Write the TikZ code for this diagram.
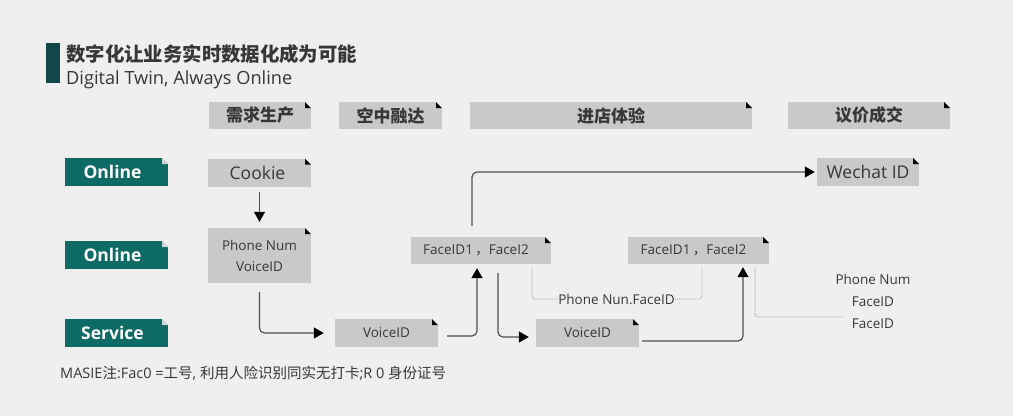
\documentclass[tikz,border=0pt]{standalone}
\usepackage{fontspec}
\setmainfont{Open Sans}
\newfontfamily\cjk{Noto Sans CJK SC}
\usetikzlibrary{arrows.meta,calc}
\definecolor{bgc}{RGB}{239,239,240}
\definecolor{boxg}{RGB}{201,201,203}
\definecolor{tealbox}{RGB}{14,106,101}
\definecolor{tealdark}{RGB}{18,70,72}
\definecolor{txt}{RGB}{55,55,55}
\definecolor{lnc}{RGB}{80,80,80}
\definecolor{foldl}{RGB}{205,214,213}
\definecolor{dotc}{RGB}{150,150,150}
\tikzset{
  x=1pt,y=-1pt,
  foldpic/.style={path picture={
    \fill[bgc] ($(path picture bounding box.north east)+(-6pt,0pt)$) -- (path picture bounding box.north east) -- ++(0pt,-6pt) -- cycle;
    \fill[#1] ($(path picture bounding box.north east)+(-6pt,0pt)$) -- ++(0pt,-6pt) -- ++(6pt,0pt) -- cycle;}},
  graybox/.style={rectangle, inner sep=0pt, fill=boxg, text=txt, foldpic=black},
  hdrbox/.style={graybox, minimum height=27pt, font=\cjk\bfseries\fontsize{17}{17}\selectfont},
  tealtag/.style={rectangle, inner sep=0pt, fill=tealbox, text=white, minimum width=103pt, minimum height=28pt, foldpic=foldl, font=\bfseries\fontsize{17.5}{18}\selectfont},
  bigtxt/.style={font=\fontsize{17.5}{18}\selectfont},
  smtxt/.style={font=\fontsize{13.5}{14}\selectfont},
  arr/.style={draw=lnc, line width=1.2pt, rounded corners=5pt, -{Triangle[length=10pt,width=11pt,color=black]}},
  dotline/.style={draw=dotc, line width=0.8pt, dash pattern=on 1pt off 1pt, rounded corners=3pt},
}
\begin{document}
\begin{tikzpicture}
\fill[bgc] (0,0) rectangle (1013,416);
\useasboundingbox (0,0) rectangle (1013,416);
% title
\fill[tealdark] (46,43) rectangle (60,83);
\node[anchor=west, inner sep=0pt, text=txt, font=\cjk\bfseries\fontsize{19.4}{19}\selectfont] (title) at (66,54) {数字化让业务实时数据化成为可能};
\node[anchor=west, inner sep=0pt, text=txt, font=\fontsize{18.2}{18}\selectfont] (subtitle) at (66,80) {Digital Twin, Always Online};
% headers
\node[hdrbox, minimum width=102pt] (h1) at (260,115.5) {需求生产};
\node[hdrbox, minimum width=103pt] (h2) at (390.5,115.5) {空中融达};
\node[hdrbox, minimum width=282pt] (h3) at (611,115.5) {进店体验};
\node[hdrbox, minimum width=162pt] (h4) at (869,115.5) {议价成交};
% row tags
\node[tealtag] (t1) at (116.5,172) {\hspace*{-8pt}Online};
\node[tealtag] (t2) at (116.5,255) {\hspace*{-8pt}Online};
\node[tealtag] (t3) at (116.5,333) {\hspace*{-8pt}Service};
% boxes
\node[graybox, bigtxt, minimum width=103pt, minimum height=28pt] (cookie) at (259.5,172.5) {\hspace*{-4pt}Cookie};
\node[graybox, smtxt, minimum width=103pt, minimum height=55pt, align=center] (phone) at (259.5,255.5) {Phone Num\\[7pt]VoiceID};
\node[graybox, smtxt, minimum width=103pt, minimum height=28pt] (voice1) at (386.5,333) {VoiceID};
\node[graybox, smtxt, minimum width=140pt, minimum height=27pt] (face1) at (481,250.5) {\hspace*{-10pt}FaceID1\,{\cjk ，}FaceI2};
\node[graybox, bigtxt, minimum width=102pt, minimum height=28pt] (wechat) at (868,172) {Wechat ID};
\node[graybox, smtxt, minimum width=103pt, minimum height=28pt] (voice2) at (587.5,333) {VoiceID};
\node[graybox, smtxt, minimum width=141pt, minimum height=27pt] (face2) at (698.5,250.5) {\hspace*{-10pt}FaceID1\,{\cjk ，}FaceI2};
% free labels
\node[smtxt, text=txt, inner sep=0pt] (lbl) at (616.5,299) {Phone Nun.FaceID};
\node[smtxt, text=txt, inner sep=0pt, align=center] (rtxt) at (873,301.5) {Phone Num\\[8pt]FaceID\\[8pt]FaceID};
\coordinate (dend) at (843,317);
% note
\node[anchor=west, inner sep=0pt, text=txt, font=\fontsize{14.5}{15}\selectfont] (note) at (60,373) {MASIE{\cjk 注}:Fac0 ={\cjk 工号}, {\cjk 利用人险识别同实无打卡};R 0 {\cjk 身份证号}};
% connectors
\draw[arr, shorten <=5pt, shorten >=6pt] (cookie) -- (phone);
\draw[arr, shorten <=9pt, shorten >=11pt] (phone.south) |- (voice1.west);
\draw[arr, shorten <=9pt, shorten >=4pt] ([yshift=-3pt]voice1.east) -| ([xshift=-4pt]face1.south);
\draw[arr, shorten <=11pt, shorten >=2pt] ([xshift=-9pt]face1.north) |- (wechat.west);
\draw[arr, shorten <=9pt, shorten >=7pt] ([xshift=17pt]face1.south) |- ([yshift=-4pt]voice2.west);
\draw[arr, shorten <=3pt, shorten >=3pt] ([yshift=-8pt]voice2.east) -| ([xshift=44.5pt]face2.south);
\draw[dotline, shorten <=4pt] ([xshift=51pt]face1.south) |- (lbl.west);
\draw[dotline, shorten >=4pt] (lbl.east) -| ([xshift=3.5pt]face2.south);
\draw[dotline, shorten <=3pt] ([xshift=56.5pt]face2.south) |- (dend);
\end{tikzpicture}
\end{document}
